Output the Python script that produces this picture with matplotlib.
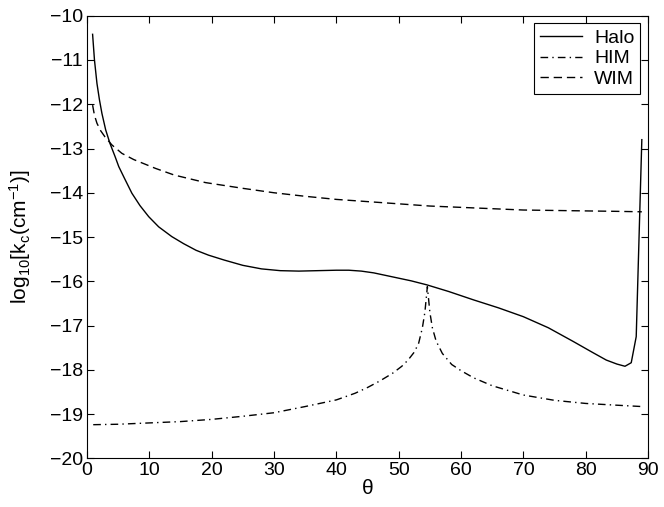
import matplotlib
matplotlib.use('Agg')
import matplotlib.pyplot as plt

plt.rcParams['font.family'] = ['Liberation Sans', 'DejaVu Sans']
plt.rcParams['mathtext.default'] = 'regular'

# Halo
halo_theta = [0.9, 1.2, 1.6, 2.0, 2.4, 3.0, 3.7, 4.5, 5.1, 6.0, 7.2, 8.5, 9.9, 11.5,
              13.6, 15.5, 17.5, 19.5, 22, 25, 28, 31, 34, 37, 40, 42, 44, 46, 48, 50,
              52, 54.5, 58, 62, 66, 70, 74, 78, 81, 83.3, 85, 86.3, 87.3, 88.1, 89.0]
halo_val = [-10.42, -11.0, -11.53, -11.9, -12.21, -12.58, -12.89, -13.18, -13.41, -13.67,
            -14.01, -14.29, -14.54, -14.77, -14.99, -15.15, -15.30, -15.41, -15.52, -15.64,
            -15.72, -15.76, -15.77, -15.76, -15.75, -15.75, -15.77, -15.81, -15.87, -15.93,
            -15.99, -16.08, -16.23, -16.42, -16.60, -16.80, -17.05, -17.36, -17.60, -17.78,
            -17.87, -17.92, -17.84, -17.25, -12.8]

# HIM
him_theta = [1, 5, 10, 15, 20, 25, 30, 35, 40, 43, 45, 47, 49, 50.5, 51.5, 52.5, 53.2,
             53.8, 54.2, 54.6, 55.0, 55.4, 56, 57, 58.5, 60, 62, 65, 70, 75, 80, 85, 89]
him_val = [-19.24, -19.23, -19.20, -19.17, -19.12, -19.05, -18.97, -18.83, -18.68, -18.53,
           -18.40, -18.25, -18.08, -17.92, -17.78, -17.60, -17.40, -17.05, -16.70, -16.12,
           -16.70, -17.05, -17.35, -17.63, -17.88, -18.02, -18.18, -18.36, -18.57, -18.69,
           -18.76, -18.80, -18.83]

# WIM
wim_theta = [0.9, 1.2, 1.6, 2.2, 2.9, 4, 5.6, 7.5, 11, 14, 19, 25, 30, 35, 40, 45, 50,
             55, 60, 65, 70, 75, 80, 85, 89]
wim_val = [-12.02, -12.25, -12.43, -12.60, -12.74, -12.92, -13.11, -13.25, -13.45, -13.60,
           -13.77, -13.90, -14.00, -14.08, -14.15, -14.20, -14.25, -14.30, -14.33, -14.36,
           -14.39, -14.40, -14.41, -14.42, -14.43]

fig = plt.figure(figsize=(6.64, 5.07), dpi=100)
ax = fig.add_axes([0.131, 0.096, 0.845, 0.873])

ax.plot(halo_theta, halo_val, color='black', lw=1.0, label='Halo')
ax.plot(him_theta, him_val, color='black', lw=1.0, dashes=(5.5, 3, 1, 3), label='HIM')
ax.plot(wim_theta, wim_val, color='black', lw=1.0, dashes=(6, 3.5), label='WIM')

ax.set_xlim(0, 90)
ax.set_ylim(-20, -10)
ax.set_xticks(range(0, 91, 10))
ax.set_yticks(range(-20, -9, 1))
ax.tick_params(direction='in', top=True, right=True, length=5, width=0.8,
               labelsize=14, pad=3)
for s in ax.spines.values():
    s.set_linewidth(0.8)

ax.set_xlabel('θ', fontsize=15, labelpad=0)
ax.set_ylabel('log$_{10}$[k$_c$(cm$^{-1}$)]', fontsize=15, labelpad=12)

leg = ax.legend(loc='upper right', fontsize=14, fancybox=False, framealpha=1,
                edgecolor='black', handlelength=2.2, borderaxespad=0.4,
                labelspacing=0.15, handletextpad=0.6, borderpad=0.3)
leg.get_frame().set_linewidth(0.8)

fig.savefig('out.png', dpi=100)
